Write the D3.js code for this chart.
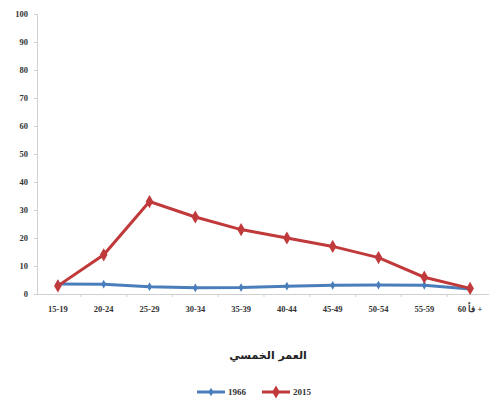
<!DOCTYPE html>
<html><head><meta charset="utf-8">
<script src="https://cdn.jsdelivr.net/npm/d3@7"></script>
<style>body{margin:0;background:#fff}svg{display:block}</style>
</head><body>
<svg id="c" width="489" height="405"></svg>
<script>
const categories = ["15-19","20-24","25-29","30-34","35-39","40-44","45-49","50-54","55-59","60 فأ +"];
const series1966 = [3.6,3.5,2.6,2.2,2.3,2.8,3.1,3.2,3.1,1.8];
const series2015 = [2.9,14,33,27.5,23,20,17,13,6,2];
const seriesNames = ["1966","2015"];
const seriesColors = ["#4a7ebb","#c0393b"];
const yTicks = [0,10,20,30,40,50,60,70,80,90,100];
const xTitle = "العمر الخمسي";

const svg = d3.select("#c");
const x = d3.scaleBand().domain(categories).range([35,493]);
const y = d3.scaleLinear().domain([0,100]).range([294,14]);
const font = "'Liberation Serif', serif";

// y axis
const ya = svg.append("g").attr("transform","translate(37,0)")
  .call(d3.axisLeft(y).tickValues(yTicks).tickSize(3).tickPadding(6));
ya.select(".domain").attr("stroke","#d0d0d0");
ya.selectAll(".tick line").attr("stroke","#d0d0d0");
ya.selectAll("text").attr("font-family",font).attr("font-weight","bold").attr("font-size",8.5).attr("fill","#333");

// x axis
const xa = svg.append("g").attr("transform","translate(0,294)")
  .call(d3.axisBottom(x).tickSize(0).tickPadding(12));
xa.select(".domain").attr("stroke","#d0d0d0");
xa.selectAll("text").attr("font-family",font).attr("font-weight","bold").attr("font-size",8.5).attr("fill","#333");
// boundary ticks
xa.selectAll(".btick").data(categories.slice(1)).enter().append("line")
  .attr("x1",d=>x(d)).attr("x2",d=>x(d)).attr("y1",0).attr("y2",3).attr("stroke","#d0d0d0");

const line = d3.line().x((d,i)=>x(categories[i])+x.bandwidth()/2).y(d=>y(d));
[series1966, series2015].forEach((s,k)=>{
  svg.append("path").datum(s).attr("d",line).attr("fill","none")
    .attr("stroke",seriesColors[k]).attr("stroke-width",3);
  svg.selectAll(".m"+k).data(s).enter().append("path")
    .attr("transform",(d,i)=>`translate(${x(categories[i])+x.bandwidth()/2},${y(d)})`)
    .attr("d",k===0 ? d3.symbol(d3.symbolDiamond,22)() : d3.symbol(d3.symbolDiamond,50)())
    .attr("fill",seriesColors[k]);
});

svg.append("text").attr("x",268).attr("y",359).attr("text-anchor","middle")
  .attr("font-family","'DejaVu Sans', sans-serif").attr("font-weight","bold").attr("font-size",11)
  .attr("fill","#222").text(xTitle);

// legend
const lg = svg.append("g");
const lx = [197, 262];
seriesNames.forEach((n,k)=>{
  lg.append("line").attr("x1",lx[k]).attr("x2",lx[k]+28).attr("y1",392).attr("y2",392)
    .attr("stroke",seriesColors[k]).attr("stroke-width",3);
  lg.append("path").attr("transform",`translate(${lx[k]+14},392)`)
    .attr("d",d3.symbol(d3.symbolDiamond,k===0?22:50)()).attr("fill",seriesColors[k]);
  lg.append("text").attr("x",lx[k]+31).attr("y",395).attr("font-family",font).attr("font-weight","bold")
    .attr("font-size",9).attr("fill","#333").text(n);
});
</script>
</body></html>
